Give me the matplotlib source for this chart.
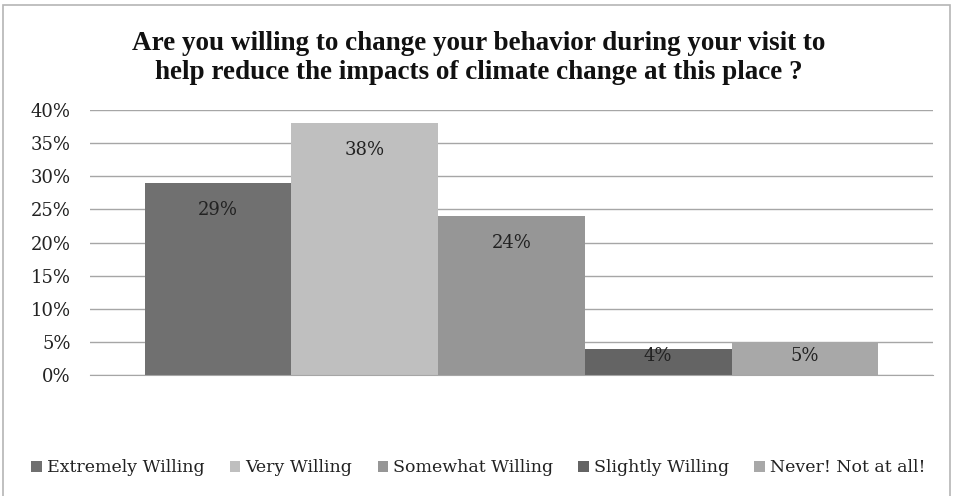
import matplotlib.pyplot as plt
from matplotlib.patches import Rectangle, Patch
from matplotlib.ticker import FuncFormatter, MultipleLocator

# ── Data ────────────────────────────────────────────────────────────────
categories = ["Extremely Willing", "Very Willing", "Somewhat Willing",
              "Slightly Willing", "Never! Not at all!"]
values = [29, 38, 24, 4, 5]
colors = ["#707070", "#bfbfbf", "#969696", "#646464", "#a8a8a8"]

title = ("Are you willing to change your behavior during your visit to\n"
         "help reduce the impacts of climate change at this place ?")

plt.rcParams["font.family"] = ["DejaVu Serif"]

fig = plt.figure(figsize=(9.57, 4.96), dpi=100)
fig.patch.set_facecolor("white")

# outer chart frame
fig.add_artist(Rectangle((3 / 957, -0.05), 947 / 957, 1.04,
                         transform=fig.transFigure, fill=False,
                         edgecolor="#b5b5b5", linewidth=1.2))

ax = fig.add_axes([90 / 957, 1 - 375 / 496, 843 / 957, 265 / 496])

# bars – one category cluster, five series side by side
n = len(values)
width = 0.87 / n
for i, (cat, v, c) in enumerate(zip(categories, values, colors)):
    x = (i - (n - 1) / 2) * width
    ax.bar(x, v, width=width, color=c, label=cat, zorder=2)
    ax.text(x, max(v - 4.1, 2.9), f"{v}%", ha="center", va="center",
            fontsize=13, color="#222222", zorder=3)

ax.set_xlim(-0.5, 0.5)
ax.set_ylim(0, 40)
ax.yaxis.set_major_locator(MultipleLocator(5))
ax.yaxis.set_major_formatter(FuncFormatter(lambda y, _: f"{y:.0f}%"))
ax.set_xticks([])
ax.grid(axis="y", color="#a6a6a6", linewidth=1.0, zorder=0)
ax.tick_params(axis="y", length=0, pad=14, labelsize=13, labelcolor="#222222")
for s in ["left", "right", "top"]:
    ax.spines[s].set_visible(False)
ax.spines["bottom"].set_color("#a6a6a6")

fig.text(0.5, 1 - 58 / 496, title, ha="center", va="center",
         fontsize=19.5, fontweight="bold", linespacing=1.2, color="#111111",
         family="Liberation Serif")

handles = [Patch(facecolor=c, edgecolor="none") for c in colors]
fig.legend(handles, categories, loc="center", bbox_to_anchor=(0.5, 1 - 468 / 496),
           ncol=5, frameon=False, fontsize=12.5, handlelength=0.6, handleheight=0.6,
           handletextpad=0.3, columnspacing=1.45, labelcolor="#222222")

fig.savefig("out.png", dpi=100)
